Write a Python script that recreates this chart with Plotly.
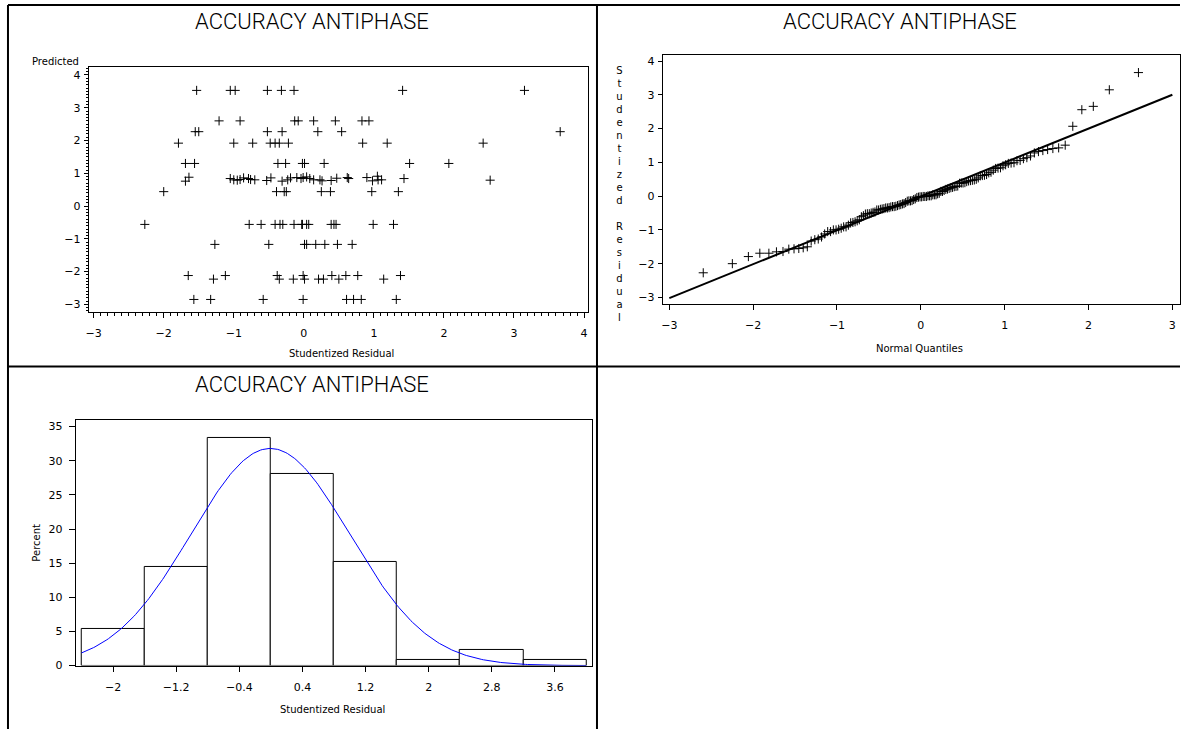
import numpy as np
import plotly.graph_objects as go
from statistics import NormalDist

W, H = 1181, 736

# Studentized residuals and predicted values, one line per predicted level
STUDENTIZED_RESIDUAL = [
    -1.53, -1.05, -0.98, -0.52, -0.32, -0.14, 1.41, 3.15,
    -1.21, -0.91, -0.13, -0.08, 0.14, 0.45, 0.83, 0.93,
    -1.55, -1.50, -0.52, -0.31, 0.20, 0.54, 3.66,
    -1.79, -1.00, -0.73, -0.48, -0.41, -0.35, -0.22, 0.84, 1.19, 2.56,
    -1.69, -1.56, -0.37, -0.26, -0.02, 0.01, 0.29, 1.51, 2.07,
    -1.69, -1.64, -1.05, -1.00, -0.95, -0.91, -0.86, -0.79, -0.76, -0.70, -0.53, -0.47,
    -0.31, -0.23, -0.19, -0.10, -0.04, -0.01, 0.04, 0.085, 0.14, 0.23, 0.26, 0.39,
    0.47, 0.62, 0.64, 0.90, 0.98, 1.05, 1.06, 1.11, 1.43, 2.66,
    -2.00, -0.39, -0.28, -0.25, 0.25, 0.38, 0.97, 1.35,
    -2.27, -0.78, -0.61, -0.41, -0.34, -0.30, -0.14, -0.03, -0.02, 0.04, 0.07, 0.39,
    0.43, 0.46, 0.99, 1.28,
    -1.27, -0.50, 0.01, 0.04, 0.17, 0.30, 0.48, 0.69,
    -1.65, -1.29, -1.12, -0.38, -0.35, -0.15, -0.01, 0.01, 0.21, 0.28, 0.40, 0.50,
    0.60, 0.77, 1.14, 1.38,
    -1.57, -1.33, -0.58, -0.01, 0.61, 0.71, 0.82, 1.32,
]

PREDICTED_VALUE = [
    3.53, 3.53, 3.53, 3.53, 3.53, 3.53, 3.53, 3.53,
    2.60, 2.60, 2.60, 2.60, 2.60, 2.60, 2.60, 2.60,
    2.27, 2.27, 2.27, 2.27, 2.27, 2.27, 2.27,
    1.92, 1.92, 1.92, 1.92, 1.92, 1.92, 1.92, 1.92, 1.92, 1.92,
    1.30, 1.30, 1.30, 1.30, 1.30, 1.30, 1.30, 1.30, 1.30,
    0.76, 0.88, 0.84, 0.80, 0.79, 0.81, 0.86, 0.84, 0.81, 0.80, 0.78, 0.86,
    0.76, 0.80, 0.86, 0.87, 0.84, 0.87, 0.89, 0.84, 0.80, 0.80, 0.77, 0.78,
    0.85, 0.87, 0.84, 0.87, 0.77, 0.91, 0.80, 0.80, 0.84, 0.79,
    0.44, 0.44, 0.44, 0.44, 0.44, 0.44, 0.44, 0.44,
    -0.56, -0.56, -0.56, -0.56, -0.56, -0.56, -0.56, -0.56, -0.56, -0.56, -0.56, -0.56,
    -0.56, -0.56, -0.56, -0.56,
    -1.17, -1.17, -1.17, -1.17, -1.17, -1.17, -1.17, -1.17,
    -2.12, -2.23, -2.12, -2.12, -2.23, -2.23, -2.12, -2.23, -2.23, -2.23, -2.12, -2.23,
    -2.12, -2.12, -2.23, -2.12,
    -2.85, -2.85, -2.85, -2.85, -2.85, -2.85, -2.85, -2.85,
]

TITLE = "ACCURACY ANTIPHASE"
SCATTER_TICKS = [-3, -2, -1, 0, 1, 2, 3, 4]
QQ_X_TICKS = [-3, -2, -1, 0, 1, 2, 3]
QQ_Y_TICKS = [-3, -2, -1, 0, 1, 2, 3, 4]
HIST_X_TICKS = [-2, -1.2, -0.4, 0.4, 1.2, 2, 2.8, 3.6]
HIST_Y_TICKS = [0, 5, 10, 15, 20, 25, 30, 35]
BIN_START, BIN_END, BIN_WIDTH = -2.4, 4.0, 0.8

resid = np.array(STUDENTIZED_RESIDUAL)
pred = np.array(PREDICTED_VALUE)
n = len(resid)
mu = resid.mean()
sigma = resid.std(ddof=1)

# normal quantiles (Blom) for the probability plot
nd = NormalDist()
qq_x = np.array([nd.inv_cdf((i - 0.375) / (n + 0.25)) for i in range(1, n + 1)])
qq_y = np.sort(resid)

# fitted normal density scaled to percent per bin
curve_x = np.linspace(BIN_START, BIN_END, 300)
curve_y = 100 * BIN_WIDTH * np.exp(-0.5 * ((curve_x - mu) / sigma) ** 2) / (sigma * np.sqrt(2 * np.pi))

BLACK = "#000000"
TICK_FONT = dict(family="DejaVu Sans", size=11, color=BLACK)
plus = dict(symbol="cross-thin", size=6.5, color=BLACK, line=dict(width=1, color=BLACK))


def px(x):
    return x / W


def py(y):
    return 1 - y / H


fig = go.Figure()

fig.add_trace(go.Scatter(x=resid, y=pred, mode="markers", marker=plus,
                         xaxis="x", yaxis="y", showlegend=False))
fig.add_trace(go.Scatter(x=qq_x, y=qq_y, mode="markers", marker=plus,
                         xaxis="x2", yaxis="y2", showlegend=False))
fig.add_trace(go.Scatter(x=[-3, 3], y=[mu - 3 * sigma, mu + 3 * sigma], mode="lines",
                         line=dict(color=BLACK, width=2),
                         xaxis="x2", yaxis="y2", showlegend=False))
fig.add_trace(go.Histogram(x=resid, histnorm="percent",
                           xbins=dict(start=BIN_START, end=BIN_END, size=BIN_WIDTH),
                           marker=dict(color="white", line=dict(color=BLACK, width=1)),
                           xaxis="x3", yaxis="y3", showlegend=False))
fig.add_trace(go.Scatter(x=curve_x, y=curve_y, mode="lines",
                         line=dict(color="#0000ff", width=1),
                         xaxis="x3", yaxis="y3", showlegend=False))

axis_common = dict(showline=True, linecolor=BLACK, linewidth=1, mirror=True,
                   ticks="outside", tickcolor=BLACK, tickwidth=1,
                   showgrid=False, zeroline=False, tickfont=TICK_FONT)

fig.update_layout(
    width=W, height=H,
    margin=dict(l=0, r=0, t=0, b=0),
    paper_bgcolor="white", plot_bgcolor="white",
    bargap=0,
    xaxis=dict(axis_common, domain=[px(86), px(587)], range=[-3.071, 4.057],
               tickvals=SCATTER_TICKS, ticklen=5, ticklabelstandoff=6,
               minor=dict(dtick=0.1, ticklen=3, ticks="outside", tickcolor=BLACK)),
    yaxis=dict(axis_common, domain=[py(315), py(68)], range=[-3.233, 4.233],
               tickvals=SCATTER_TICKS, ticklen=4, ticklabelstandoff=1,
               minor=dict(dtick=0.1, ticklen=2, ticks="outside", tickcolor=BLACK)),
    xaxis2=dict(axis_common, domain=[px(662), 1.0], range=[-3.078, 3.091],
                tickvals=QQ_X_TICKS, ticklen=5, ticklabelstandoff=6, anchor="y2"),
    yaxis2=dict(axis_common, domain=[py(307), py(56)], range=[-3.197, 4.167],
                tickvals=QQ_Y_TICKS, ticklen=4, ticklabelstandoff=1, anchor="x2"),
    xaxis3=dict(axis_common, domain=[px(73), px(591)], range=[-2.473, 4.07],
                tickvals=HIST_X_TICKS, ticklen=5, ticklabelstandoff=6, anchor="y3"),
    yaxis3=dict(axis_common, domain=[py(672), py(424)], range=[0, 35.97],
                tickvals=HIST_Y_TICKS, ticklen=6, ticklabelstandoff=4, anchor="x3"),
)

# panel frames
frame = dict(type="line", xref="paper", yref="paper", line=dict(color=BLACK, width=2))
fig.add_shape(frame, x0=px(5), x1=1, y0=py(5), y1=py(5))
fig.add_shape(frame, x0=px(5), x1=px(5), y0=py(5), y1=0)
fig.add_shape(frame, x0=px(596), x1=px(596), y0=py(5), y1=0)
fig.add_shape(frame, x0=px(5), x1=1, y0=py(370), y1=py(370))


def label(text, x, y, size=10, angle=0, family="DejaVu Sans", weight=None):
    font = dict(family=family, size=size, color=BLACK)
    if weight is not None:
        font["weight"] = weight
    fig.add_annotation(text=text, x=px(x), y=py(y), xref="paper", yref="paper",
                       xanchor="center", yanchor="middle", showarrow=False,
                       textangle=angle, font=font)


for tx, ty in [(310, 22), (900, 22), (310, 388)]:
    label(TITLE, tx, ty, size=22, family="Roboto", weight=300)

label("Predicted", 53, 62)
label("Studentized Residual", 340, 357)
label("Normal Quantiles", 920, 352)
label("Studentized Residual", 331, 716)
label("Percent", 34, 548, angle=-90)

stacked = "<br>".join(list("Studentized") + [" "] + list("Residual"))
label(stacked, 619, 196)

fig.write_html("out.html")
